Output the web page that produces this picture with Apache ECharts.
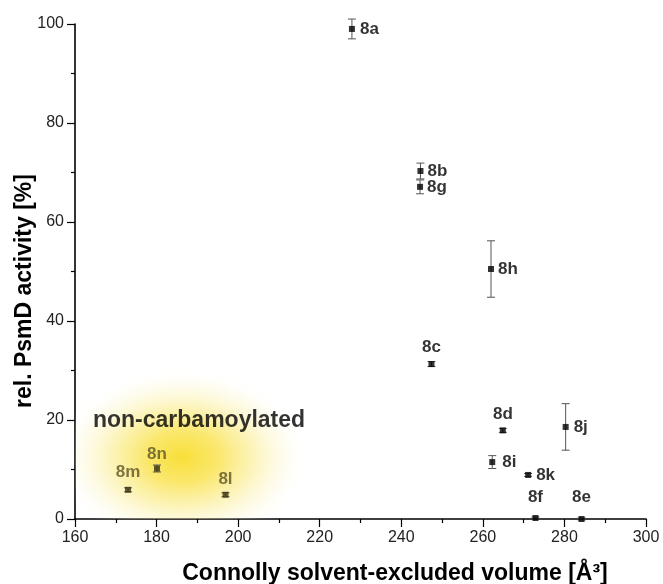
<!DOCTYPE html>
<html>
<head>
<meta charset="utf-8">
<script src="https://cdn.jsdelivr.net/npm/echarts@6/dist/echarts.min.js"></script>
<style>
html,body{margin:0;padding:0;background:#fff;}
#chart{width:663px;height:584px;}
</style>
</head>
<body>
<div id="chart"></div>
<script>
// ---- data ----
var names   = ['8a','8b','8g','8h','8c','8d','8j','8i','8k','8f','8e','8m','8n','8l'];
var volumes = [227.9, 244.7, 244.6, 262.0, 247.4, 264.9, 280.3, 262.3, 271.1, 272.9, 284.2, 173.0, 180.1, 196.9];
var activity= [99.0, 70.3, 67.1, 50.5, 31.3, 17.9, 18.6, 11.5, 8.9, 0.2, 0.0, 5.9, 10.2, 4.9];
var errors  = [2.0, 1.6, 1.4, 5.7, 0.5, 0.4, 4.7, 1.3, 0.3, 0.2, 0.2, 0.4, 0.7, 0.4];
var labelSide = ['right','right','right','right','top','top','right','right','right','top','top','top','top','top'];
var labelGap  = [5, 4, 4, 4, 5, 5, 5, 7, 5, 9, 10, 6, 3, 4];
var groupFlag = [0,0,0,0,0,0,0,0,0,0,0,1,1,1]; // 1 = non-carbamoylated
var xTicks = [160, 300, 20];
var yTicks = [0, 100, 20];
var annotationText = 'non-carbamoylated';
var annotationPos = [164.4, 19.8];
var glowCenter = [186.3, 12.5];
var glowRadius = [31, 18];

var chart = echarts.init(document.getElementById('chart'));
var FONT = 'Liberation Sans, Arial, sans-serif';

var pts = names.map(function (n, i) {
  var olive = groupFlag[i] === 1;
  return {
    name: n,
    value: [volumes[i], activity[i], errors[i]],
    itemStyle: { color: olive ? '#3b3512' : '#000' },
    label: {
      show: true,
      formatter: n,
      position: labelSide[i],
      distance: labelGap[i],
      color: olive ? '#5d5424' : '#000',
      fontSize: 17,
      fontWeight: 'bold',
      fontFamily: FONT
    }
  };
});

var errData = names.map(function (n, i) { return [volumes[i], activity[i], errors[i]]; });

var option = {
  backgroundColor: '#fff',
  animation: false,
  grid: { left: 75, right: 17, top: 24, bottom: 65 },
  xAxis: {
    type: 'value', min: xTicks[0], max: xTicks[1], interval: xTicks[2],
    axisLine: { show: true, onZero: false, lineStyle: { color: '#000', width: 1.6 } },
    axisTick: { show: true, inside: false, length: 8, lineStyle: { color: '#000', width: 1.2 } },
    minorTick: { show: true, splitNumber: 2, length: 4, lineStyle: { color: '#000', width: 1.2 } },
    splitLine: { show: false },
    axisLabel: { color: '#222', fontSize: 16, fontFamily: FONT, margin: 11 }
  },
  yAxis: {
    type: 'value', min: yTicks[0], max: yTicks[1], interval: yTicks[2],
    axisLine: { show: true, lineStyle: { color: '#000', width: 1.6 } },
    axisTick: { show: true, inside: false, length: 8, lineStyle: { color: '#000', width: 1.2 } },
    minorTick: { show: true, splitNumber: 2, length: 4, lineStyle: { color: '#000', width: 1.2 } },
    splitLine: { show: false },
    axisLabel: { color: '#222', fontSize: 16, fontFamily: FONT, margin: 11 }
  },
  graphic: [
    {
      type: 'text', x: 395, y: 574,
      style: { text: 'Connolly solvent-excluded volume [Å³]', fill: '#000', font: 'bold 23px ' + FONT, textAlign: 'center', textVerticalAlign: 'middle' }
    },
    {
      type: 'text', x: 25, y: 291, rotation: Math.PI / 2,
      style: { text: 'rel. PsmD activity [%]', fill: '#000', font: 'bold 23px ' + FONT, textAlign: 'center', textVerticalAlign: 'middle' }
    }
  ],
  series: [
    {
      type: 'custom',
      name: 'glow',
      clip: true,
      z: 1,
      silent: true,
      data: [[glowCenter[0], glowCenter[1], glowRadius[0], glowRadius[1]]],
      renderItem: function (params, api) {
        var c = api.coord([api.value(0), api.value(1)]);
        var s = api.size([api.value(2), api.value(3)]);
        var rx = s[0], ry = s[1];
        return {
          type: 'circle',
          x: c[0], y: c[1],
          scaleX: rx / ry, scaleY: 1,
          shape: { cx: 0, cy: 0, r: ry },
          style: {
            fill: new echarts.graphic.RadialGradient(0.5, 0.5, 0.5, [
              { offset: 0, color: 'rgba(248,221,45,0.95)' },
              { offset: 0.3, color: 'rgba(249,225,70,0.78)' },
              { offset: 0.55, color: 'rgba(250,232,115,0.52)' },
              { offset: 0.8, color: 'rgba(252,243,185,0.25)' },
              { offset: 1, color: 'rgba(255,255,255,0)' }
            ])
          }
        };
      }
    },
    {
      type: 'custom',
      name: 'errors',
      z: 3,
      clip: false,
      data: errData,
      renderItem: function (params, api) {
        var x = api.value(0), y = api.value(1), e = api.value(2);
        var top = api.coord([x, y + e]);
        var bot = api.coord([x, y - e]);
        var cap = 4;
        var st = { stroke: '#555', lineWidth: 1, fill: null };
        return {
          type: 'group',
          children: [
            { type: 'line', shape: { x1: top[0], y1: top[1], x2: bot[0], y2: bot[1] }, style: st },
            { type: 'line', shape: { x1: top[0] - cap, y1: top[1], x2: top[0] + cap, y2: top[1] }, style: st },
            { type: 'line', shape: { x1: bot[0] - cap, y1: bot[1], x2: bot[0] + cap, y2: bot[1] }, style: st }
          ]
        };
      }
    },
    {
      type: 'scatter',
      name: 'points',
      z: 4,
      symbol: 'rect',
      symbolSize: 6,
      clip: false,
      data: pts
    },
    {
      type: 'scatter',
      name: 'annotation',
      z: 5,
      symbolSize: 0,
      silent: true,
      data: [{
        value: annotationPos,
        label: {
          show: true, position: 'right', distance: 0, formatter: annotationText,
          color: '#000', fontSize: 23, fontWeight: 'bold', fontFamily: FONT
        }
      }]
    }
  ]
};
chart.setOption(option);
</script>
</body>
</html>
